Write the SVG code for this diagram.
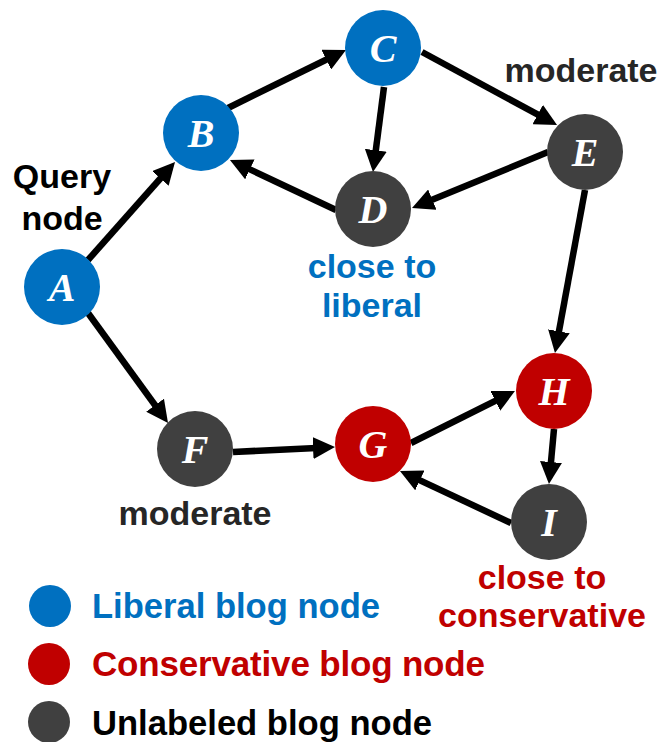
<svg xmlns="http://www.w3.org/2000/svg" width="662" height="742" viewBox="0 0 662 742">
<style>
.lib{fill:#0070C0}
.con{fill:#C00000}
.unl{fill:#404040}
.ltr{font-family:"Liberation Serif","Times New Roman",serif;font-style:italic;font-weight:bold;font-size:40px;fill:#fff;text-anchor:middle}
.lbl{font-family:"Liberation Sans",Arial,sans-serif;font-weight:bold;font-size:34px;text-anchor:middle}
.leg{font-family:"Liberation Sans",Arial,sans-serif;font-weight:bold;font-size:35px}
.edge{stroke:#000;stroke-width:6.5;fill:none;marker-end:url(#arr)}
</style>
<defs>
<marker id="arr" viewBox="0 0 10 10" refX="6.36" refY="5" markerWidth="22" markerHeight="22" markerUnits="userSpaceOnUse" orient="auto">
<path d="M0,0 L10,5 L0,10 z" fill="#000"/>
</marker>
</defs>
<rect width="662" height="742" fill="#fff"/>
<g id="connectors">
<line class="edge" x1="88" y1="260" x2="169.7" y2="168.0"/>
<line class="edge" x1="228" y1="108" x2="338.8" y2="53.5"/>
<line class="edge" x1="384" y1="87" x2="374.0" y2="164.1"/>
<line class="edge" x1="422" y1="52" x2="550.0" y2="121.2"/>
<line class="edge" x1="548" y1="152" x2="419.4" y2="205.0"/>
<line class="edge" x1="336" y1="210" x2="237.2" y2="163.4"/>
<line class="edge" x1="585" y1="190" x2="556.4" y2="345.1"/>
<line class="edge" x1="88" y1="313" x2="163.3" y2="416.5"/>
<line class="edge" x1="233" y1="452" x2="327.0" y2="447.4"/>
<line class="edge" x1="411" y1="443" x2="507.8" y2="394.6"/>
<line class="edge" x1="554" y1="429" x2="549.7" y2="476.0"/>
<line class="edge" x1="511" y1="523" x2="407.2" y2="474.4"/>
</g>
<g id="node-A"><circle class="lib" cx="62" cy="287" r="38"/><text class="ltr" x="62" y="301">A</text></g>
<g id="node-B"><circle class="lib" cx="201" cy="133" r="38"/><text class="ltr" x="201" y="147">B</text></g>
<g id="node-C"><circle class="lib" cx="383" cy="48" r="38"/><text class="ltr" x="383" y="62">C</text></g>
<g id="node-D"><circle class="unl" cx="373" cy="209" r="38"/><text class="ltr" x="373" y="223">D</text></g>
<g id="node-E"><circle class="unl" cx="585" cy="152" r="38"/><text class="ltr" x="585" y="166">E</text></g>
<g id="node-F"><circle class="unl" cx="195" cy="449" r="38"/><text class="ltr" x="195" y="463">F</text></g>
<g id="node-G"><circle class="con" cx="373" cy="444" r="38"/><text class="ltr" x="373" y="458">G</text></g>
<g id="node-H"><circle class="con" cx="554" cy="391" r="38"/><text class="ltr" x="554" y="405">H</text></g>
<g id="node-I"><circle class="unl" cx="549" cy="522" r="38"/><text class="ltr" x="549" y="536">I</text></g>
<g id="labels">
<text class="lbl" x="62" y="188" fill="#000">Query</text>
<text class="lbl" x="62" y="230" fill="#000">node</text>
<text class="lbl" x="581" y="82" fill="#262626">moderate</text>
<text class="lbl" x="195" y="525" fill="#262626">moderate</text>
<text class="lbl" x="372" y="278" fill="#0070C0">close to</text>
<text class="lbl" x="372" y="317" fill="#0070C0">liberal</text>
<text class="lbl" x="542" y="589" fill="#C00000">close to</text>
<text class="lbl" x="542" y="627" fill="#C00000">conservative</text>
</g>
<g id="legend">
<circle class="lib" cx="50" cy="606" r="21"/>
<text class="leg" x="92" y="618" fill="#0070C0" textLength="288" lengthAdjust="spacingAndGlyphs">Liberal blog node</text>
<circle class="con" cx="49" cy="664" r="21"/>
<text class="leg" x="92" y="676" fill="#C00000" textLength="393" lengthAdjust="spacing">Conservative blog node</text>
<circle class="unl" cx="49" cy="722" r="21"/>
<text class="leg" x="92" y="735" fill="#000" textLength="340" lengthAdjust="spacingAndGlyphs">Unlabeled blog node</text>
</g>
</svg>
